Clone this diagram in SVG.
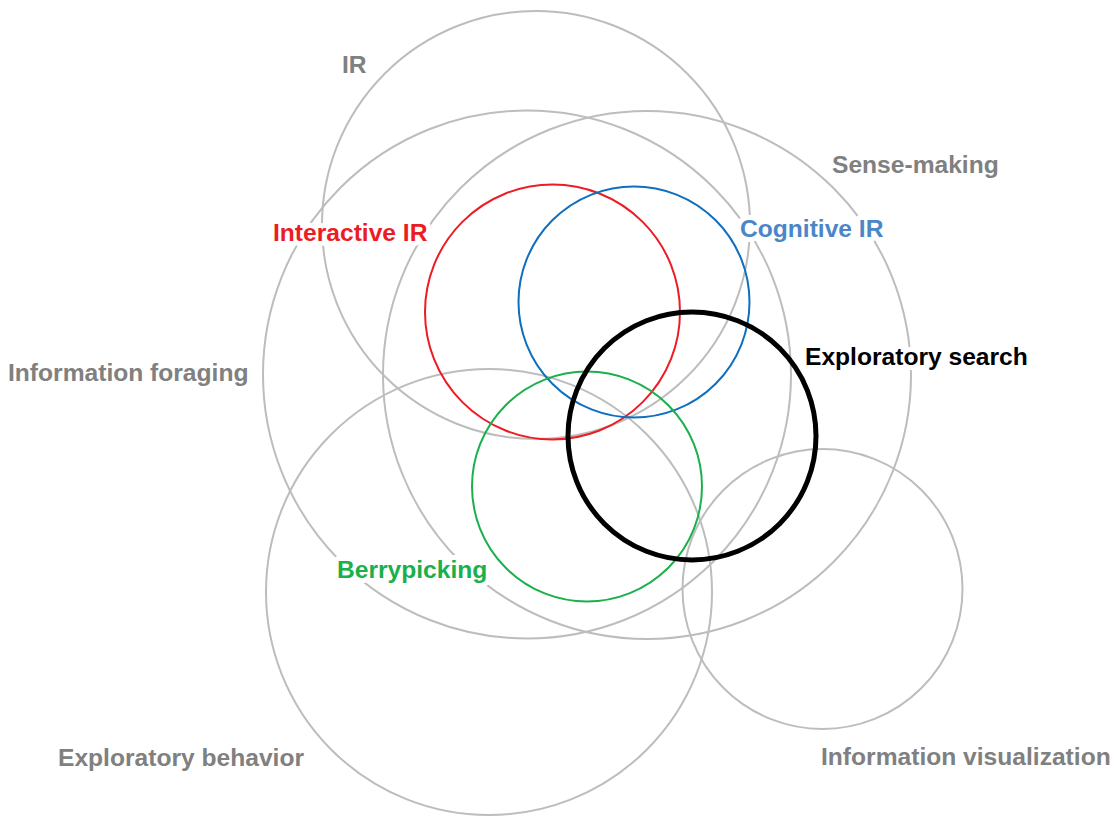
<svg xmlns="http://www.w3.org/2000/svg" width="1117" height="817" viewBox="0 0 1117 817">
<style>
.c{fill:none;stroke-width:2}
.g{stroke:#bdbdbd}
.k{stroke:#000;stroke-width:5}
text{font-family:"Liberation Sans",Arial,sans-serif;font-weight:bold;font-size:24.6px;stroke:#fff;stroke-width:10;stroke-linejoin:round;paint-order:stroke}
.tg{fill:#808080}
</style>
<rect width="1117" height="817" fill="#fff"/>
<g id="ir"><circle class="c g" cx="536" cy="225" r="214"/></g>
<g id="info-foraging"><circle class="c g" cx="527" cy="374.5" r="264"/></g>
<g id="sense-making"><circle class="c g" cx="647" cy="375" r="264"/></g>
<g id="exploratory-behavior"><circle class="c g" cx="489" cy="592" r="223"/></g>
<g id="info-visualization"><circle class="c g" cx="822.5" cy="589" r="140"/></g>
<g id="interactive-ir"><circle class="c" stroke="#ed1c24" cx="552.5" cy="312" r="127.5"/></g>
<g id="cognitive-ir"><circle class="c" stroke="#0f6fbf" cx="634" cy="302" r="115.5"/></g>
<g id="berrypicking"><circle class="c" stroke="#1ab04b" cx="587" cy="486.5" r="115"/></g>
<g id="exploratory-search"><circle class="c k" cx="692" cy="436" r="124"/></g>
<g id="labels">
<text class="tg" x="342" y="73">IR</text>
<text class="tg" x="832" y="173">Sense-making</text>
<text x="273" y="241" fill="#ed1c24">Interactive IR</text>
<text x="740" y="237" fill="#4a86c8">Cognitive IR</text>
<text x="805" y="365" fill="#000">Exploratory search</text>
<text class="tg" x="8" y="381">Information foraging</text>
<text x="337" y="578" fill="#1ab04b">Berrypicking</text>
<text class="tg" x="58" y="766">Exploratory behavior</text>
<text class="tg" x="821" y="765">Information visualization</text>
</g>
</svg>
